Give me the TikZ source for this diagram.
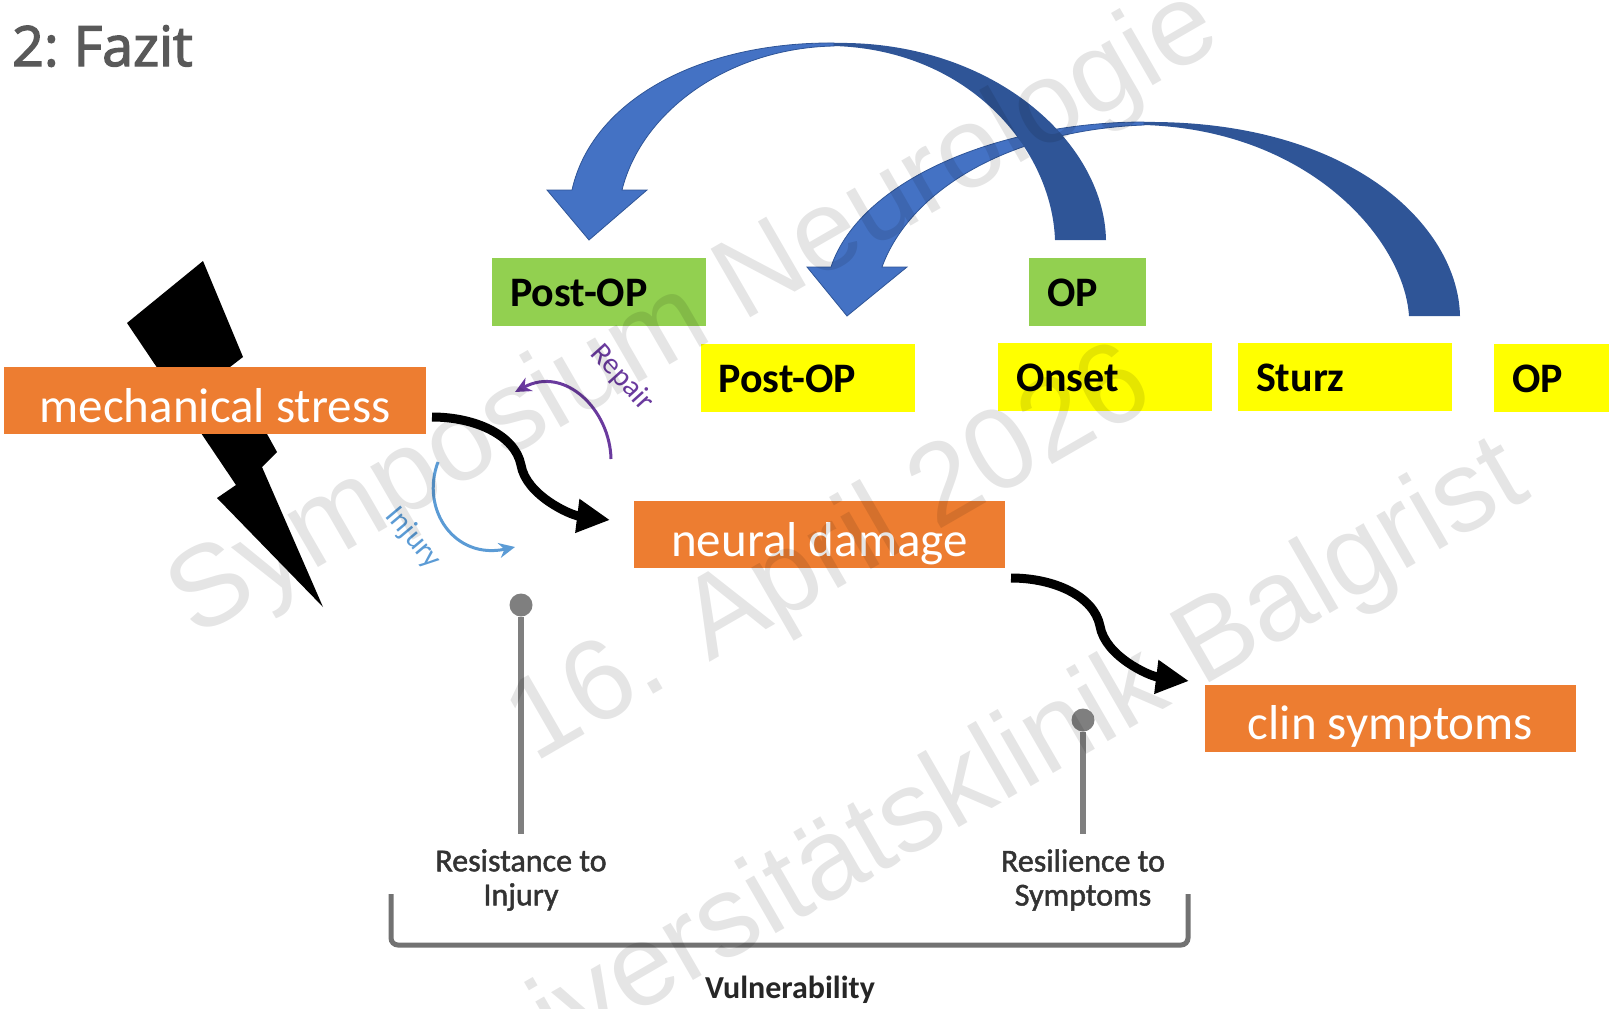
\documentclass[tikz,border=0pt]{standalone}
\usepackage{fontspec}
\setmainfont{Carlito}
\newfontfamily\markfont{Liberation Sans}
\newfontfamily\headfont[FakeBold=2.5,WordSpace=0.7]{Open Sans}
\newfontfamily\capfont[FakeBold=1.5]{Carlito}
\usetikzlibrary{arrows.meta}
\definecolor{stressorange}{HTML}{ED7D31}
\definecolor{opgreen}{HTML}{92D050}
\definecolor{tagyellow}{RGB}{255,255,0}
\definecolor{arclight}{HTML}{4472C4}
\definecolor{arcdark}{HTML}{2F5597}
\definecolor{repairpurple}{HTML}{6A3A9E}
\definecolor{injuryblue}{HTML}{5B9BD5}
\definecolor{pingray}{HTML}{7F7F7F}
\tikzset{
    stressbox/.style={fill=stressorange, text=white, minimum height=67pt, inner sep=0pt, text height=43pt, text depth=0pt, font=\fontsize{49}{49}\selectfont},
    tagbox/.style={minimum height=68pt, inner xsep=18pt, inner ysep=0pt, text height=29pt, text depth=0pt, align=left, font=\fontsize{42}{42}\selectfont\bfseries},
    squiggle/.style={line width=9pt, -{Triangle[length=33pt, width=32pt]}},
    thinarc/.style={line width=3pt, -{Stealth[length=16pt, width=15pt]}},
    pinstem/.style={line width=6pt, pingray},
    pinhead/.style={circle, fill=pingray, minimum size=23pt, inner sep=0pt},
    caption/.style={align=center, text=black!80, inner ysep=15pt, font=\capfont\fontsize{32}{34}\selectfont},
    watermark/.style={text opacity=0.1, inner sep=0pt, anchor=base west, rotate=30, font=\markfont\fontsize{115}{115}\selectfont},
}
\begin{document}
\begin{tikzpicture}[x=1pt, y=-1pt]
\useasboundingbox (0,0) rectangle (1609,1009);

\node (title) at (12,66) [anchor=base west, inner sep=0pt, text=black!65, font=\headfont\fontsize{55.5}{55.5}\selectfont] {2: Fazit};

% lightning bolt
\fill[black] (203,261) -- (243,357) -- (230,367) -- (277,452) -- (262,467) -- (323,607)
    -- (217,498) -- (236,485) -- (127,323) -- cycle;

% boxes
\node (stress) at (215,400.5) [stressbox, minimum width=422pt] {mechanical stress};
\node (damage) at (819.5,534.5) [stressbox, minimum width=371pt] {neural damage};
\node (clin) at (1390.5,718) [stressbox, minimum width=371pt] {clin symptoms};

\node (postgreen) at (599,291.5) [tagbox, fill=opgreen, text width=178pt] {Post-OP};
\node (opgreen) at (1087.5,291.5) [tagbox, fill=opgreen, text width=81pt] {OP};
\node (postyellow) at (807.5,377.5) [tagbox, fill=tagyellow, text width=178pt] {Post-OP};
\node (onset) at (1105,376.5) [tagbox, fill=tagyellow, text width=178pt] {Onset};
\node (sturz) at (1345,376.5) [tagbox, fill=tagyellow, text width=178pt] {Sturz};
\node (opyellow) at (1551.5,377.5) [tagbox, fill=tagyellow, text width=79pt] {OP};

% second arc, Sturz to Post-OP
\fill[arcdark] (1460,316) .. controls (1458,225) and (1350,120) .. (1144,122)
    -- (1144,125) .. controls (1310,130) and (1404,240) .. (1409,316) -- cycle;
\filldraw[fill=arclight, draw=arcdark, line width=0.8pt] (1144,122) .. controls (1000,122) and (860,180) .. (831,267) -- (807,267) -- (847,316) -- (907,267)
    -- (882,267) .. controls (910,190) and (1010,130) .. (1144,125) -- cycle;

% first arc, OP to Post-OP
\fill[arcdark] (1106,240) .. controls (1104,140) and (990,40) .. (834,43)
    -- (834,46) .. controls (970,50) and (1052,150) .. (1055,240) -- cycle;
\filldraw[fill=arclight, draw=arcdark, line width=0.8pt] (834,43) .. controls (700,42) and (592,100) .. (572,190) -- (547,190) -- (589,240) -- (647,190)
    -- (622,190) .. controls (642,110) and (730,48) .. (834,46) -- cycle;

% stress path
\coordinate (s1) at (432,417);
\coordinate (s2) at (1011,578);
\foreach \from in {s1,s2}
    \draw[squiggle] (\from) .. controls +(43,0) and +(-6,-30) .. ++(89,48) .. controls +(5,30) and +(-40,-5) .. ++(89,55);

% repair and injury
\coordinate (r1) at (611,459);
\coordinate (r2) at (515,392);
\coordinate (i1) at (438,462);
\coordinate (i2) at (515,547);
\draw[thinarc, repairpurple] (r1) .. controls (610,410) and (565,365) .. (r2);
\draw[thinarc, injuryblue] (i1) .. controls (420,510) and (455,560) .. (i2);
\node (repair) at (622,378) [rotate=-48, text=repairpurple, inner sep=0pt, font=\fontsize{30}{30}\selectfont] {Repair};
\node (injury) at (413,538) [rotate=-50, text=injuryblue, inner sep=0pt, font=\fontsize{30}{30}\selectfont] {Injury};

% resistance and resilience
\node (pinl) at (521,605) [pinhead] {};
\node (pinr) at (1083,720) [pinhead] {};
\node (resist) at (521,880) [caption] {Resistance to\\Injury};
\node (resil) at (1083,880) [caption] {Resilience to\\Symptoms};
\draw[pinstem] (pinl) -- (resist.north);
\draw[pinstem] (pinr) -- (resil.north);

\coordinate (bl) at (391,894);
\coordinate (br) at (1188,894);
\draw[pingray!90!black, line width=5pt, rounded corners=7pt] (bl) -- (bl |- 0,945) -- (br |- 0,945) -- (br);
\node (vuln) at (790,990) [text=black!85, inner sep=0pt, font=\fontsize{32}{32}\selectfont\bfseries] {Vulnerability};

% watermark
\node (mark1) at (195,639) [watermark] {Symposium Neurologie};
\node (mark2) at (534,764) [watermark] {16. April 2026};
\node (mark3) at (432,1132) [watermark] {Universitätsklinik Balgrist};
\end{tikzpicture}
\end{document}
